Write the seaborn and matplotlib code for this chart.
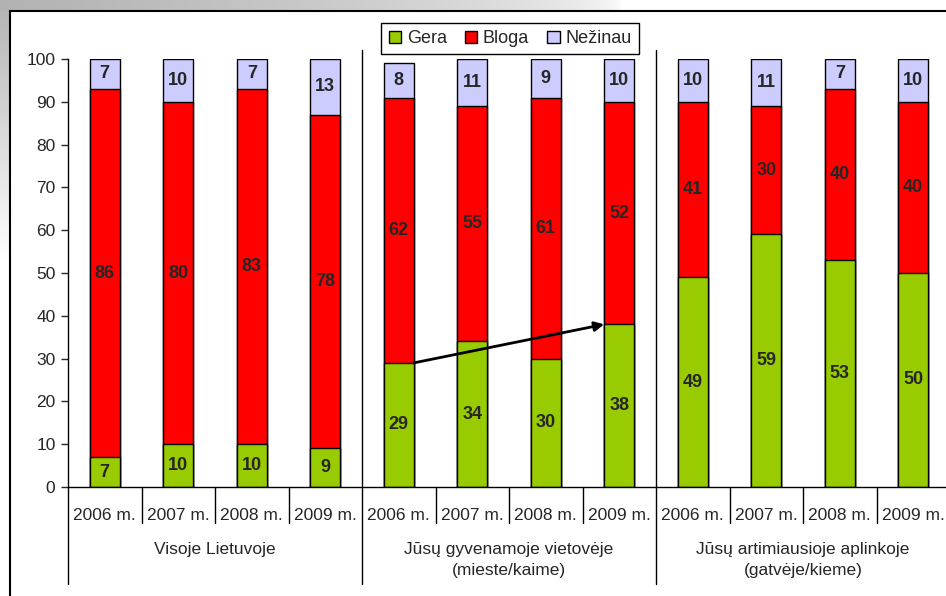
import numpy as np
import pandas as pd
import matplotlib
matplotlib.use("Agg")
import matplotlib.pyplot as plt
import matplotlib.patches as mpatches
import seaborn as sns

# ── data ────────────────────────────────────────────────────────────────
years = ["2006 m.", "2007 m.", "2008 m.", "2009 m."]
groups = ["Visoje Lietuvoje",
          "Jūsų gyvenamoje vietovėje\n(mieste/kaime)",
          "Jūsų artimiausioje aplinkoje\n(gatvėje/kieme)"]
series = ["Gera", "Bloga", "Nežinau"]
gera = [7, 10, 10, 9, 29, 34, 30, 38, 49, 59, 53, 50]
bloga = [86, 80, 83, 78, 62, 55, 61, 52, 41, 30, 40, 40]
nezinau = [7, 10, 7, 13, 8, 11, 9, 10, 10, 11, 7, 10]

colors = {"Gera": "#99CC00", "Bloga": "#FF0000", "Nežinau": "#CCCCFF"}

sns.set_style("white")
plt.rcParams["font.family"] = ["Liberation Sans", "DejaVu Sans"]

W, H = 946, 596
fig = plt.figure(figsize=(W / 100, H / 100), dpi=100)

# background texture strip (top-left)
bg = fig.add_axes([0, 0, 1, 1], zorder=-10)
img = np.ones((H, W, 3))
xx = np.arange(W)[None, :]
yy = np.arange(H)[:, None]
top = (yy < 11) * np.clip(1 - xx / 620.0, 0, 1) ** 0.5
left = (xx < 9) * np.clip(1 - yy / 260.0, 0, 1)
shade = np.maximum(top, left) * 0.30
img = img - shade[:, :, None]
bg.imshow(img, aspect="auto", extent=[0, W, H, 0])
bg.axis("off")

# outer frame (right edge falls outside the picture)
fig.add_artist(mpatches.Rectangle((10 / W, -0.1), 1.0, 1.1 - 11 / H,
                                  transform=fig.transFigure, fill=False,
                                  edgecolor="black", linewidth=1.5))

ax = fig.add_axes([68 / W, 1 - 487 / H, 882 / W, 428 / H])
ax.set_facecolor("none")

n = len(gera)
df = pd.DataFrame({"pos": range(n), "Gera": gera, "Bloga": bloga, "Nežinau": nezinau})
df["c2"] = df["Gera"] + df["Bloga"]
df["c3"] = df["c2"] + df["Nežinau"]

bw = 0.41
for col, name in [("c3", "Nežinau"), ("c2", "Bloga"), ("Gera", "Gera")]:
    sns.barplot(data=df, x="pos", y=col, color=colors[name], saturation=1,
                edgecolor="black", linewidth=1, width=bw, ax=ax, zorder=2)

# value labels
for i in range(n):
    base = 0
    for name in series:
        v = df.loc[i, name]
        ax.text(i, base + v / 2, str(v), ha="center", va="center",
                fontsize=13, fontweight="bold", zorder=5)
        base += v

ax.set_xlim(-0.5, n - 0.5)
ax.set_ylim(0, 100)
ax.set_yticks(range(0, 101, 10))
ax.tick_params(axis="y", labelsize=12.5, length=5, width=1, direction="out",
               left=True, pad=4)
ax.set_xticks([])
ax.set_xlabel("")
ax.set_ylabel("")
for s in ["top", "right"]:
    ax.spines[s].set_visible(False)
ax.spines["left"].set_bounds(0, 100)
for s in ["left", "bottom"]:
    ax.spines[s].set_color("black")
    ax.spines[s].set_linewidth(1)

# category axis
tr = ax.get_xaxis_transform()
ax.plot([-0.5, -0.5], [0, -0.227], color="black", lw=1, transform=tr, clip_on=False)
for b in [3.5, 7.5]:
    ax.plot([b, b], [1.021, -0.227], color="black", lw=1, transform=tr, clip_on=False)
for b in [0.5, 1.5, 2.5, 4.5, 5.5, 6.5, 8.5, 9.5, 10.5]:
    ax.plot([b, b], [0, -0.084], color="black", lw=1, transform=tr, clip_on=False)
for i in range(n):
    ax.text(i, -0.066, years[i % 4], ha="center", va="center", fontsize=12.5,
            transform=tr)
for g, label in enumerate(groups):
    ax.text(g * 4 + 1.5, -0.128, label, ha="center", va="top", fontsize=12.5,
            transform=tr, linespacing=1.55)

# trend arrow between 2006 and 2009 "Gera" in group 2
ax.annotate("", xy=(7 - bw / 2, gera[7]), xytext=(4 + bw / 2, gera[4]),
            arrowprops=dict(arrowstyle="-|>", color="black", lw=2,
                            mutation_scale=14, shrinkA=0, shrinkB=0),
            zorder=6)

handles = [mpatches.Patch(facecolor=colors[s], edgecolor="black", label=s) for s in series]
leg = fig.legend(handles=handles, loc="upper center", ncol=3,
                 bbox_to_anchor=(510 / W, 1 - 14 / H), frameon=True,
                 fancybox=False, edgecolor="black", framealpha=1,
                 fontsize=13, handlelength=0.7, handleheight=0.7,
                 handletextpad=0.3, columnspacing=1.0, borderpad=0.4)
leg.get_frame().set_linewidth(1)

fig.savefig("out.png", dpi=100)
